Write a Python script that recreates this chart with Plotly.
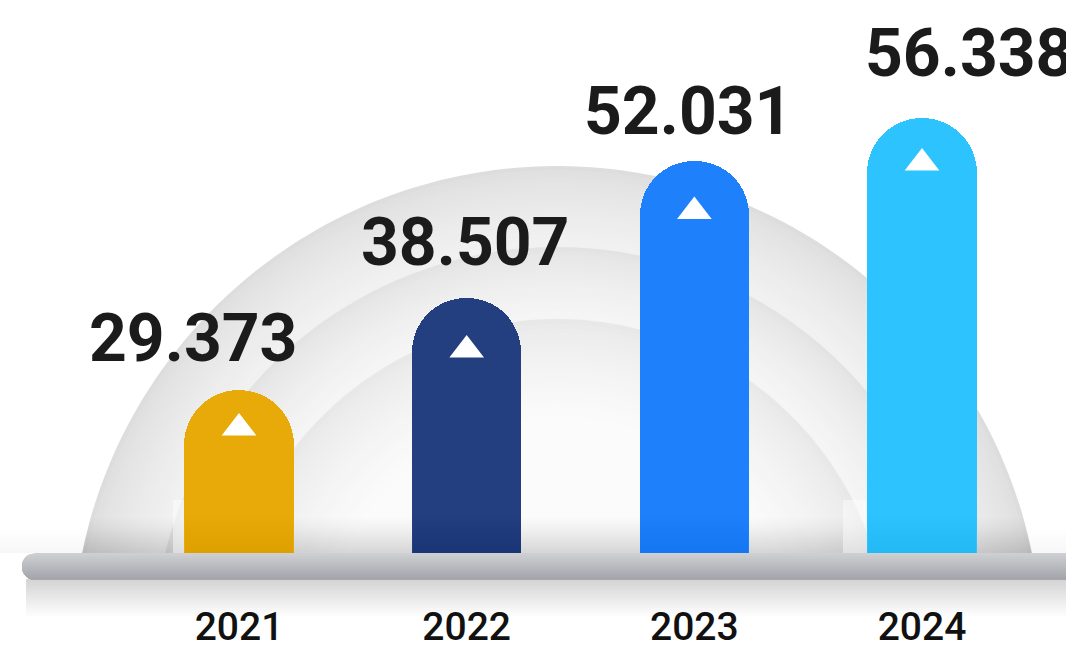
import numpy as np
import plotly.graph_objects as go

# ---- data ----
years = ["2021", "2022", "2023", "2024"]
values = [29.373, 38.507, 52.031, 56.338]
value_labels = ["29.373", "38.507", "52.031", "56.338"]

# ---- style ----
bar_colors = ["#E8AA08", "#233F7F", "#1F80FB", "#2CC3FE"]
label_shift = [(-46, 52), (-2, 55), (-6, 50), (47, 65)]  # px offset of label centre from bar top
tri_drop = [38, 52, 50, 45]  # px from bar top down to the arrow marker centre
FONT = "Roboto"

W, H = 1066, 649
BASE_PX = 553                 # pixel row where bars stand on the base
Y_RANGE = [13.215, 68.04]     # value axis span over pixel rows 553..0
X_RANGE = [-1.0498, 3.6324]
BAR_W = 0.48
PX_PER_UNIT = BASE_PX / (Y_RANGE[1] - Y_RANGE[0])


def xp(px):
    return px / W


def yp(py):
    return 1 - py / H


def path_from(points):
    return "M" + "L".join(f"{xp(x):.5f},{yp(y):.5f}" for x, y in points) + "Z"


# backdrop dome: concentric circles centred below the base line
CX, CY = 557, 651


def cap_points(r, y_cut=BASE_PX, n=160):
    h = CY - y_cut
    t0 = np.arcsin(h / r)
    t = np.linspace(t0, np.pi - t0, n)
    return list(zip(CX + r * np.cos(t), CY - r * np.sin(t)))


def chord_half(r, y):
    d = CY - y
    return np.sqrt(max(r * r - d * d, 0.0))


shapes = []


def add_path(points, color, layer="below"):
    shapes.append(dict(type="path", path=path_from(points), fillcolor=color,
                       line=dict(width=0), layer=layer, xref="paper", yref="paper"))


def grey(g):
    g = int(round(g))
    return f"rgb({g},{g},{g})"


# three shaded rings, each darker at its rim and fading inward
rings = [(485, 404, 221, 242), (404, 332, 227, 246), (332, 235, 232, 251)]
for r_out, r_in, g0, g1 in rings:
    n = 20
    for k in range(n):
        f = k / n
        r = r_out - (r_out - r_in) * f
        add_path(cap_points(r), grey(g0 + (g1 - g0) * f ** 0.7))
add_path(cap_points(235), grey(251))

# soft shadow gathering on the base line (nested bands, alpha builds downward)
n = 14
for k in range(n):
    ya = 518 + (BASE_PX - 518) * k / n
    ha, hb = chord_half(485, ya), chord_half(485, BASE_PX)
    add_path([(CX - ha, ya), (CX + ha, ya), (CX + hb, BASE_PX), (CX - hb, BASE_PX)],
             "rgba(0,0,0,0.009)")
for k in range(8):
    ya = 530 + (BASE_PX - 530) * k / 8
    add_path([(0, ya), (W, ya), (W, BASE_PX), (0, BASE_PX)], "rgba(0,0,0,0.005)")

# pale reflections beside the outer bars
for x0, x1 in [(173, 185), (843, 867)]:
    add_path([(x0, 500), (x1, 500), (x1, BASE_PX), (x0, BASE_PX)], "rgba(255,255,255,0.45)")

# shadow under the base rail (nested bands, densest next to the rail)
n = 14
for k in range(n):
    yb = 580 + 36 * (k + 1) / n
    add_path([(26, 579), (W + 4, 579), (W + 4, yb), (26, yb)], "rgba(0,0,0,0.011)")

# base rail with a rounded left end and a vertical grey gradient
RAIL_TOP, RAIL_BOT, RAIL_X = 553, 580, 22
rr = (RAIL_BOT - RAIL_TOP) / 2
rcx, rcy = RAIL_X + rr, RAIL_TOP + rr
n = 18
top_rgb, bot_rgb = np.array([206, 207, 210]), np.array([163, 165, 171])
for k in range(n):
    ya = RAIL_TOP + (RAIL_BOT - RAIL_TOP) * k / n
    ys = np.linspace(ya, RAIL_BOT, 24)
    left = [(rcx - np.sqrt(max(rr * rr - (y - rcy) ** 2, 0)), y) for y in ys]
    pts = [(W + 4, ya), (W + 4, RAIL_BOT)] + left[::-1]
    c = top_rgb + (bot_rgb - top_rgb) * k / (n - 1)
    add_path(pts, f"rgb({c[0]:.0f},{c[1]:.0f},{c[2]:.0f})")

# slight darkening at the foot of each bar
for i in range(len(years)):
    for k in range(10):
        ya = 515 + 38 * k / 10
        shapes.append(dict(type="rect", xref="x", yref="paper",
                           x0=i - BAR_W / 2, x1=i + BAR_W / 2, y0=yp(BASE_PX), y1=yp(ya),
                           fillcolor="rgba(0,0,0,0.005)", line=dict(width=0), layer="above"))

fig = go.Figure()

fig.add_trace(go.Bar(
    x=years, y=values, width=BAR_W,
    marker=dict(color=bar_colors, cornerradius="50%", line=dict(width=0)),
    hoverinfo="skip",
))

fig.add_trace(go.Scatter(
    x=years,
    y=[v - d / PX_PER_UNIT for v, d in zip(values, tri_drop)],
    mode="markers",
    marker=dict(symbol="triangle-up", size=30, color="white", line=dict(width=0)),
    hoverinfo="skip",
))

annotations = []
for i, (v, txt, (dx, dy)) in enumerate(zip(values, value_labels, label_shift)):
    annotations.append(dict(
        x=i, y=v, xref="x", yref="y", text=txt, showarrow=False,
        xanchor="center", yanchor="middle", xshift=dx, yshift=dy,
        font=dict(family=FONT, size=66, weight=700, color="#1b1b1b"),
    ))

fig.update_layout(
    width=W, height=H,
    margin=dict(l=0, r=0, t=0, b=0, autoexpand=False),
    paper_bgcolor="white", plot_bgcolor="rgba(0,0,0,0)",
    showlegend=False,
    bargap=0,
    shapes=shapes,
    annotations=annotations,
    xaxis=dict(type="category", range=X_RANGE, domain=[0, 1], automargin=False,
               showgrid=False, zeroline=False, showline=False, ticks="",
               tickfont=dict(family=FONT, size=39, weight=500, color="#111111"),
               ticklabelstandoff=47, fixedrange=True),
    yaxis=dict(range=Y_RANGE, domain=[1 - BASE_PX / H, 1], visible=False,
               automargin=False, fixedrange=True),
)

fig.write_html("out.html", config={"displayModeBar": False})
